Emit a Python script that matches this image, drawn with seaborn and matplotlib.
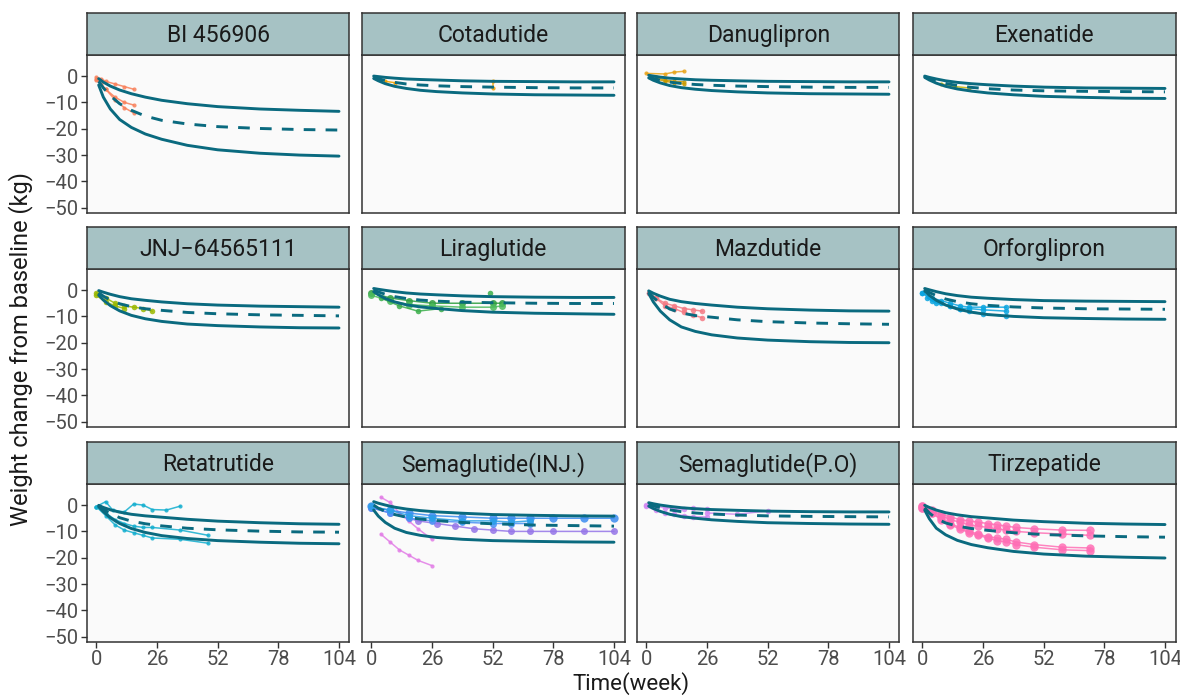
import matplotlib.pyplot as plt
import seaborn as sns
import pandas as pd
import numpy as np

# Datos
# ------
drugs = ["BI 456906", "Cotadutide", "Danuglipron", "Exenatide",
         "JNJ\u221264565111", "Liraglutide", "Mazdutide", "Orforglipron",
         "Retatrutide", "Semaglutide(INJ.)", "Semaglutide(P.O)", "Tirzepatide"]

weeks = [1, 3, 6, 10, 15, 21, 28, 39, 52, 70, 87, 104]

pred_upper = {
    "BI 456906":         [-1.0, -2.3, -3.8, -5.3, -6.7, -8.0, -9.2, -10.5, -11.6, -12.5, -13.0, -13.4],
    "Cotadutide":        [0.0, -0.2, -0.5, -0.8, -1.1, -1.3, -1.5, -1.8, -2.0, -2.1, -2.2, -2.2],
    "Danuglipron":       [0.3, 0.0, -0.4, -0.8, -1.1, -1.4, -1.6, -1.8, -2.0, -2.1, -2.2, -2.2],
    "Exenatide":         [0.0, -0.5, -1.1, -1.8, -2.4, -2.9, -3.3, -3.8, -4.2, -4.5, -4.6, -4.7],
    "JNJ\u221264565111": [-0.2, -0.8, -1.6, -2.5, -3.3, -3.9, -4.5, -5.2, -5.7, -6.1, -6.3, -6.5],
    "Liraglutide":       [0.6, 0.3, -0.1, -0.6, -1.1, -1.5, -1.8, -2.2, -2.5, -2.7, -2.8, -2.8],
    "Mazdutide":         [-0.3, -1.2, -2.3, -3.5, -4.4, -5.1, -5.7, -6.5, -7.1, -7.6, -7.9, -8.0],
    "Orforglipron":      [0.6, 0.1, -0.6, -1.4, -2.1, -2.7, -3.1, -3.6, -4.0, -4.2, -4.3, -4.4],
    "Retatrutide":       [-0.1, -0.9, -1.8, -2.7, -3.5, -4.1, -4.6, -5.4, -6.1, -6.7, -7.1, -7.3],
    "Semaglutide(INJ.)": [1.3, 0.7, 0.0, -0.8, -1.5, -2.1, -2.6, -3.1, -3.6, -3.9, -4.1, -4.2],
    "Semaglutide(P.O)":  [0.9, 0.5, 0.0, -0.5, -1.0, -1.4, -1.7, -2.0, -2.3, -2.5, -2.6, -2.6],
    "Tirzepatide":       [-0.1, -0.9, -1.9, -2.9, -3.7, -4.4, -4.9, -5.7, -6.3, -6.9, -7.2, -7.4],
}

pred_median = {
    "BI 456906":         [-2.0, -4.5, -7.5, -10.5, -13.0, -15.2, -16.8, -18.2, -19.2, -19.9, -20.3, -20.5],
    "Cotadutide":        [-0.5, -1.0, -1.7, -2.4, -3.0, -3.4, -3.7, -4.0, -4.2, -4.4, -4.5, -4.5],
    "Danuglipron":       [-0.3, -0.9, -1.6, -2.3, -2.8, -3.2, -3.5, -3.8, -4.0, -4.2, -4.3, -4.3],
    "Exenatide":         [-0.3, -1.0, -1.9, -2.8, -3.6, -4.3, -4.8, -5.3, -5.6, -5.8, -5.9, -6.0],
    "JNJ\u221264565111": [-1.0, -2.3, -3.8, -5.2, -6.3, -7.1, -7.7, -8.5, -9.0, -9.4, -9.6, -9.8],
    "Liraglutide":       [0.0, -0.7, -1.6, -2.5, -3.2, -3.8, -4.2, -4.6, -4.8, -5.0, -5.1, -5.1],
    "Mazdutide":         [-0.8, -2.8, -5.0, -7.2, -8.7, -9.7, -10.3, -11.3, -12.0, -12.5, -12.8, -13.0],
    "Orforglipron":      [0.2, -0.9, -2.1, -3.4, -4.4, -5.2, -5.8, -6.4, -6.8, -7.1, -7.2, -7.3],
    "Retatrutide":       [-0.3, -1.6, -3.2, -4.8, -6.1, -7.1, -7.9, -8.8, -9.4, -9.9, -10.2, -10.3],
    "Semaglutide(INJ.)": [0.0, -1.2, -2.4, -3.6, -4.6, -5.3, -5.9, -6.6, -7.1, -7.6, -7.8, -8.0],
    "Semaglutide(P.O)":  [0.3, -0.3, -1.0, -1.8, -2.5, -3.0, -3.4, -3.8, -4.1, -4.3, -4.4, -4.5],
    "Tirzepatide":       [-1.0, -3.0, -5.1, -6.8, -8.0, -8.9, -9.6, -10.5, -11.2, -11.7, -12.0, -12.2],
}

pred_lower = {
    "BI 456906":         [-3.4, -8.0, -12.5, -16.5, -19.5, -22.0, -24.0, -26.3, -28.0, -29.3, -30.0, -30.4],
    "Cotadutide":        [-0.9, -1.8, -2.9, -3.9, -4.7, -5.4, -5.9, -6.4, -6.8, -7.1, -7.2, -7.3],
    "Danuglipron":       [-0.7, -1.6, -2.6, -3.6, -4.4, -5.0, -5.5, -6.0, -6.4, -6.7, -6.8, -6.9],
    "Exenatide":         [-0.5, -1.5, -2.7, -3.9, -4.9, -5.7, -6.4, -7.1, -7.7, -8.1, -8.4, -8.5],
    "JNJ\u221264565111": [-1.9, -3.8, -5.9, -7.9, -9.6, -10.9, -11.9, -12.9, -13.5, -14.0, -14.3, -14.4],
    "Liraglutide":       [-0.6, -1.8, -3.2, -4.5, -5.6, -6.4, -7.0, -7.8, -8.4, -8.8, -9.0, -9.2],
    "Mazdutide":         [-1.3, -4.5, -8.0, -11.3, -14.0, -15.7, -17.0, -18.2, -19.0, -19.6, -19.9, -20.0],
    "Orforglipron":      [-0.3, -2.0, -3.9, -5.7, -7.2, -8.4, -9.3, -10.0, -10.5, -10.8, -11.0, -11.1],
    "Retatrutide":       [-0.6, -2.5, -4.8, -7.0, -8.9, -10.4, -11.6, -12.7, -13.5, -14.1, -14.5, -14.7],
    "Semaglutide(INJ.)": [-1.9, -4.2, -6.6, -8.8, -10.4, -11.5, -12.3, -13.0, -13.5, -13.8, -14.0, -14.1],
    "Semaglutide(P.O)":  [-0.4, -1.3, -2.4, -3.5, -4.4, -5.0, -5.6, -6.2, -6.7, -7.0, -7.2, -7.3],
    "Tirzepatide":       [-1.9, -5.2, -8.8, -11.3, -13.4, -15.0, -16.2, -17.6, -18.6, -19.4, -19.8, -20.1],
}

# Observados: (semanas, cambio de peso, color, tamaño de punto)
obs_bi = [
    ([0, 2, 4, 8, 12, 16], [-0.5, -1, -2, -3, -4, -5], "#F8805A", 3),
    ([0, 2, 4, 8, 12, 16], [-1, -3, -5, -8, -10, -11], "#F8805A", 3),
    ([0, 4, 8, 12, 16], [-1.5, -5, -9, -12, -14], "#F8805A", 3),
]
obs_cota = [
    ([6, 10], [-2, -2.5], "#F0A000", 3),
    ([52, 52], [-1.8, -4.6], "#F0A000", 3),
]
obs_danu = [
    ([0, 8, 12, 16], [1.0, 0.8, 1.5, 1.8], "#E8A317", 3),
    ([4, 8, 12, 16], [-1.0, -2.0, -2.5, -3.0], "#C89A00", 3),
    ([4, 8, 12, 16], [-0.5, -1.5, -2.0, -2.2], "#C89A00", 3),
]
obs_exe = [
    ([8, 14, 20], [-3.0, -4.0, -4.5], "#C8B400", 3),
]
obs_jnj = [
    ([0, 4, 8, 12, 16, 20, 24], [-1, -3, -5, -6, -6.5, -7, -8], "#9AB800", 4),
    ([0, 4, 8, 12], [-2, -4.5, -6, -7], "#9AB800", 4),
]
obs_lira = [
    ([0, 8, 16, 26, 39, 52, 56], [-1, -3, -4, -5, -5, -5, -5], "#2E9E3E", 5),
    ([0, 8, 16, 26, 39, 52, 56], [-2, -4, -5.5, -6, -6.5, -6.5, -6], "#4CBB5C", 5),
    ([4, 12, 20, 30], [-3, -6, -8, -7], "#3AAE4A", 4),
    ([51], [-1], "#3AAE4A", 4),
]
obs_mazd = [
    ([1, 4, 8, 12, 16, 20, 24], [-1, -3, -5, -6, -7, -7.5, -8], "#F47A84", 4),
    ([1, 4, 8, 12, 16, 20, 24], [-1, -3, -6, -7, -8.5, -9.5, -10.5], "#F47A84", 4),
]
obs_orfo = [
    ([0, 4, 8, 12, 16, 20, 26, 36], [-1, -4, -5, -6, -7, -7, -7.5, -8], "#0AA5E0", 4),
    ([0, 4, 8, 12, 16, 20, 26, 36], [-1, -3, -4, -5, -6, -6.5, -6.5, -6.5], "#0AA5E0", 4),
    ([2, 6, 12, 16, 20, 26, 36], [-3, -5, -6, -7, -8, -9, -10], "#0AA5E0", 4),
]
obs_reta = [
    ([0, 4, 7, 12, 16, 20, 24, 30, 36], [-0.6, 1.3, -1.9, -2.6, 0.4, 0.0, -1.7, -1.9, -0.4], "#12AECF", 3),
    ([0, 4, 8, 12, 16, 20, 24, 36, 48], [-0.6, -3, -5.5, -7, -8, -8.5, -8.5, -9.5, -11.5], "#12AECF", 3),
    ([0, 4, 8, 12, 16, 20, 24, 36, 48], [-0.6, -4, -7.5, -9.5, -10.5, -11.5, -12.5, -13, -14.5], "#12AECF", 3),
]
obs_sinj = [
    ([4, 8, 12, 16, 20, 26], [3, 1, -3, -6, -9, -13], "#E27CE6", 3),
    ([4, 8, 12, 16, 20, 26], [-11, -14, -17, -19, -21, -23], "#E27CE6", 3),
    ([0, 8, 16, 26, 39, 52, 60, 68, 78, 91, 104], [-0.5, -2, -3, -4, -4.5, -5, -5, -5, -5, -5, -5], "#3C8CF0", 6),
    ([0, 8, 16, 20, 28, 36, 44, 52, 60, 68, 78, 91, 104],
     [-1, -3, -5, -6, -7, -8, -9, -9.5, -10, -10, -10, -10, -10], "#9474E8", 5),
    ([0, 8, 16, 26, 39, 52, 60, 68], [-1, -3, -5, -6, -6.5, -7, -7, -7], "#4A90F5", 5),
    ([0, 8, 16, 26, 39, 52, 60, 68], [-0.5, -2, -4, -5, -6, -6, -6.5, -6], "#2AA0E8", 5),
]
obs_spo = [
    ([0, 4, 8, 12, 16, 20, 26], [0, -0.5, -1, -1.5, -1.5, -1, -1.5], "#D38AF2", 4),
    ([0, 4, 8, 12, 16, 20, 26], [-0.5, -2, -3, -3.5, -4, -4.5, -4.5], "#D38AF2", 4),
    ([26, 39, 52], [-3, -3.5, -2.2], "#D38AF2", 4),
]
tirz_weeks = [0, 4, 8, 12, 16, 20, 24, 28, 32, 36, 40, 48, 60, 72]
obs_tirz = [
    (tirz_weeks, [-0.5, -2, -3.5, -4.5, -5.5, -6, -6.5, -7, -7.5, -8, -8.5, -9, -9.5, -9.6], "#FF6FB5", 6),
    (tirz_weeks, [-0.5, -2.5, -4, -5.5, -6.5, -7.5, -8, -8.5, -9, -9.5, -10, -10.5, -11, -11.5], "#FF6FB5", 6),
    (tirz_weeks, [-1, -3, -5, -7, -8.5, -10, -11, -12, -12.5, -13, -14, -15, -16, -16.3], "#FF6FB5", 6),
    (tirz_weeks, [-1, -3, -5.5, -7.5, -9, -10.5, -11.5, -12.5, -13.5, -14, -15, -16, -17, -17.3], "#FF6FB5", 6),
]

observados = [obs_bi, obs_cota, obs_danu, obs_exe, obs_jnj, obs_lira,
              obs_mazd, obs_orfo, obs_reta, obs_sinj, obs_spo, obs_tirz]

# Tabla larga de predicciones
filas = []
for d in drugs:
    for banda, tabla in [("upper", pred_upper), ("median", pred_median), ("lower", pred_lower)]:
        for w, v in zip(weeks, tabla[d]):
            filas.append([d, banda, w, v])
df_pred = pd.DataFrame(filas, columns=["drug", "band", "week", "value"])

# Grafico
# ------
sns.set_theme(style="white")
plt.rcParams['font.family'] = ['Roboto', 'DejaVu Sans']

W, H = 1180, 697
fig = plt.figure(figsize=(W / 100, H / 100), dpi=100)

col_left = [87, 362, 637, 913]
strip_top = [13, 227, 442]
ancho, alto_strip, alto_panel = 262.5, 42, 158
linea = "#0A6A7F"

for i, d in enumerate(drugs):
    r, c = divmod(i, 4)
    x0 = col_left[c]
    y_strip = strip_top[r]
    y_panel = y_strip + alto_strip

    ax = fig.add_axes([x0 / W, 1 - (y_panel + alto_panel) / H, ancho / W, alto_panel / H])
    ax_s = fig.add_axes([x0 / W, 1 - (y_strip + alto_strip) / H, ancho / W, alto_strip / H])

    # franja del titulo
    ax_s.set_facecolor("#A6C2C4")
    ax_s.set_xticks([])
    ax_s.set_yticks([])
    for s in ax_s.spines.values():
        s.set_color("#333333")
        s.set_linewidth(1.1)
    ax_s.text(0.5, 0.47, d, ha="center", va="center", fontsize=16.5, color="#1A1A1A",
              transform=ax_s.transAxes)

    ax.set_facecolor("#FAFAFA")
    for s in ax.spines.values():
        s.set_color("#333333")
        s.set_linewidth(1.1)

    # observados
    for (xs, ys, col, ms) in observados[i]:
        sns.lineplot(x=xs, y=ys, ax=ax, color=col, lw=1.1, marker="o", markersize=ms,
                     markeredgewidth=0, alpha=0.85, estimator=None, sort=False, legend=False)

    # predicciones
    sub = df_pred[df_pred["drug"] == d]
    sns.lineplot(data=sub, x="week", y="value", style="band", ax=ax, color=linea,
                 lw=2.1, estimator=None,
                 dashes={"upper": "", "median": (4, 3.5), "lower": ""}, legend=False)

    ax.set_xlim(-4, 108.5)
    ax.set_ylim(-52, 8)
    ax.set_xticks([0, 26, 52, 78, 104])
    ax.set_yticks([0, -10, -20, -30, -40, -50])
    ax.set_xlabel("")
    ax.set_ylabel("")
    ax.tick_params(axis="both", length=4, width=1, color="#333333",
                   labelsize=14.5, labelcolor="#4D4D4D", pad=2)
    ax.tick_params(axis="both", bottom=(r == 2), left=(c == 0),
                   labelbottom=(r == 2), labelleft=(c == 0))
    ax.set_yticklabels(["0", "\u221210", "\u221220", "\u221230", "\u221240", "\u221250"])

fig.text(631 / W, 1 - 695 / H, "Time(week)", ha="center", va="bottom", fontsize=16, color="#1A1A1A")
fig.text(21 / W, 1 - 349 / H, "Weight change from baseline (kg)", ha="center", va="center",
         rotation=90, fontsize=17, color="#1A1A1A")

fig.savefig("out.png", dpi=100, facecolor="white")
